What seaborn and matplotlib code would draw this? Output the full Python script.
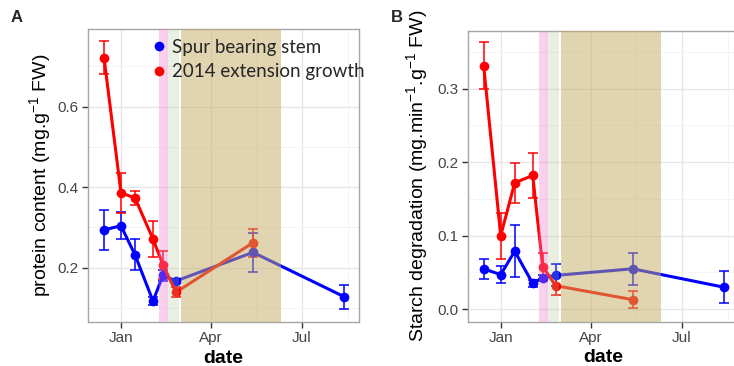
import matplotlib
matplotlib.use("Agg")
import matplotlib.pyplot as plt
from matplotlib.lines import Line2D
import pandas as pd
import seaborn as sns

# ---- data -------------------------------------------------------------
spur_dates = ["2013-12-15", "2014-01-01", "2014-01-15", "2014-02-02",
              "2014-02-12", "2014-02-25", "2014-05-13", "2014-08-12"]
ext_dates = spur_dates[:7]

spur_protein = [0.294, 0.304, 0.232, 0.117, 0.181, 0.167, 0.238, 0.128]
spur_protein_err = [0.050, 0.034, 0.038, 0.010, 0.014, 0.006, 0.048, 0.030]
ext_protein = [0.722, 0.386, 0.373, 0.271, 0.207, 0.139, 0.262]
ext_protein_err = [0.040, 0.050, 0.018, 0.044, 0.034, 0.012, 0.035]

spur_starch = [0.055, 0.047, 0.079, 0.035, 0.043, 0.046, 0.055, 0.030]
spur_starch_err = [0.014, 0.012, 0.035, 0.005, 0.004, 0.015, 0.022, 0.022]
ext_starch = [0.331, 0.100, 0.172, 0.182, 0.058, 0.032, 0.013]
ext_starch_err = [0.032, 0.031, 0.027, 0.031, 0.018, 0.013, 0.012]

series_names = ["Spur bearing stem", "2014 extension growth"]
series_colors = ["#0000FF", "#FF0000"]

# phenological periods shaded across both panels
periods = [("2014-02-08", "2014-02-17", "#F07CD2", 0.35),
           ("2014-02-17", "2014-02-28", "#A8C48C", 0.25),
           ("2014-03-02", "2014-06-10", "#C3AB65", 0.50)]

x_limits = ("2013-11-29", "2014-08-27")
month_ticks = ["2014-01-01", "2014-04-01", "2014-07-01"]
month_labels = ["Jan", "Apr", "Jul"]
month_minor = ["2014-02-15", "2014-05-16", "2014-08-16"]


def long_frame(values_spur, err_spur, values_ext, err_ext):
    a = pd.DataFrame({"date": pd.to_datetime(spur_dates), "value": values_spur,
                      "err": err_spur, "tissue": series_names[0]})
    b = pd.DataFrame({"date": pd.to_datetime(ext_dates), "value": values_ext,
                      "err": err_ext, "tissue": series_names[1]})
    return pd.concat([a, b], ignore_index=True)


protein = long_frame(spur_protein, spur_protein_err, ext_protein, ext_protein_err)
starch = long_frame(spur_starch, spur_starch_err, ext_starch, ext_starch_err)

# ---- style ------------------------------------------------------------
sns.set_style("white")
plt.rcParams["font.family"] = ["Liberation Sans", "DejaVu Sans"]
plt.rcParams["mathtext.default"] = "regular"

fig = plt.figure(figsize=(7.34, 3.66), dpi=100)
W, H = 734, 366


def px_axes(left, top, width, height):
    return fig.add_axes([left / W, 1 - (top + height) / H, width / W, height / H])


axA = px_axes(88, 29, 271, 293)
axB = px_axes(467.7, 30.7, 271, 291)


def draw_panel(ax, df, ylim, yticks, yminor, ylabel, ylabel_x):
    palette = dict(zip(series_names, series_colors))
    for name in series_names:
        sub = df[df.tissue == name]
        ax.errorbar(sub["date"], sub["value"], yerr=sub["err"], fmt="none",
                    ecolor=palette[name], elinewidth=1.1, capsize=3.6,
                    capthick=1.1, zorder=3)
    sns.lineplot(data=df, x="date", y="value", hue="tissue",
                 hue_order=series_names, palette=palette, marker="o",
                 markersize=7, markeredgewidth=0, linewidth=2.2,
                 legend=False, ax=ax, zorder=4, sort=True)
    for start, end, col, alpha in periods:
        ax.axvspan(pd.Timestamp(start), pd.Timestamp(end), color=col,
                   alpha=alpha, lw=0, zorder=5)

    ax.set_xlim(pd.Timestamp(x_limits[0]), pd.Timestamp(x_limits[1]))
    ax.set_ylim(*ylim)
    ax.set_xticks(pd.to_datetime(month_ticks))
    ax.set_xticklabels(month_labels)
    ax.set_xticks(pd.to_datetime(month_minor), minor=True)
    ax.set_yticks(yticks)
    ax.set_yticklabels([f"{t:.1f}" for t in yticks])
    ax.set_yticks(yminor, minor=True)

    ax.grid(which="major", color="#E6E6E6", lw=0.9, zorder=0)
    ax.grid(which="minor", color="#F3F3F3", lw=0.6, zorder=0)
    ax.set_axisbelow(True)
    for s in ax.spines.values():
        s.set_color("#A6A6A6")
        s.set_linewidth(1.0)
    ax.tick_params(which="major", length=4.3, width=1.0, color="#333333",
                   labelsize=11, labelcolor="#444444", pad=2.5,
                   bottom=True, left=True)
    ax.tick_params(which="minor", length=0)

    ax.set_xlabel("date", fontsize=14, fontweight="bold", color="black",
                  va="baseline")
    ax.xaxis.set_label_coords(0.5, -41 / 293)
    ax.set_ylabel(ylabel, fontsize=14, color="black", va="center")
    ax.yaxis.set_label_coords(ylabel_x, 0.5)


draw_panel(axA, protein, (0.065, 0.793), [0.2, 0.4, 0.6],
           [0.1, 0.3, 0.5, 0.7], "protein content (mg.g$^{-1}$ FW)",
           (40 - 88) / 271)
draw_panel(axB, starch, (-0.017, 0.379), [0.0, 0.1, 0.2, 0.3],
           [0.05, 0.15, 0.25, 0.35],
           "Starch degradation (mg.min$^{-1}$.g$^{-1}$ FW)",
           (416.7 - 467.7) / 271)

handles = [Line2D([], [], linestyle="none", marker="o", markersize=7,
                  markeredgewidth=0, color=c) for c in series_colors]
axA.legend(handles, series_names, loc="upper left",
           bbox_to_anchor=(153 / W, 1 - 39 / H), bbox_transform=fig.transFigure,
           frameon=False, handlelength=0.6, handletextpad=0.4,
           labelspacing=0.38, borderaxespad=0, borderpad=0,
           prop={"family": "Lato", "size": 13.5})

fig.text(17 / W, 1 - 18 / H, "A", fontsize=12, fontweight="bold",
         ha="center", va="center")
fig.text(396.5 / W, 1 - 18 / H, "B", fontsize=12, fontweight="bold",
         ha="center", va="center")

fig.savefig("out.png", dpi=100)
